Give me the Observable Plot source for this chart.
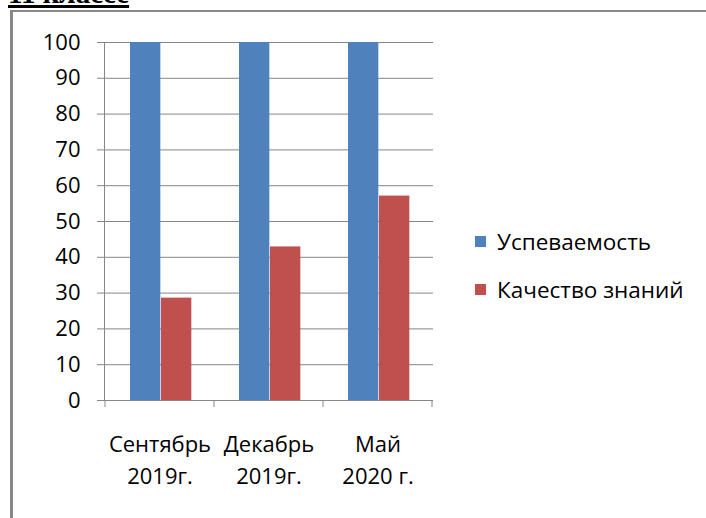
<!DOCTYPE html>
<html>
<head>
<meta charset="utf-8">
<script src="https://cdn.jsdelivr.net/npm/d3@7"></script>
<script src="https://cdn.jsdelivr.net/npm/@observablehq/plot@0.6"></script>
<style>
  html, body { margin: 0; padding: 0; background: #fff; overflow: hidden; }
  #wrap { position: relative; width: 706px; height: 518px; overflow: hidden; }
  #title { position: absolute; left: 8px; top: -23px; font: bold 29px "Liberation Serif", serif; text-decoration: underline; text-decoration-thickness: 3px; text-underline-offset: 2px; color: #000; white-space: nowrap; }
  #frame { position: absolute; left: 10px; top: 10px; width: 800px; height: 600px; border: 2px solid #888; border-left-width: 3px; }
  #chart { position: absolute; left: 0; top: 0; }
  .legend { position: absolute; left: 475px; font: 22.5px "Open Sans", sans-serif; color: #000; white-space: nowrap; }
  .legend .item { position: absolute; left: 0; display: flex; align-items: center; }
  .legend .sw { width: 11px; height: 11px; margin-right: 11px; }
</style>
</head>
<body>
<div id="wrap">
  <div id="frame"></div>
  <div id="title">11 классе</div>
  <div id="chart"></div>
  <div class="legend" id="legend"></div>
</div>
<script>
const categories = ["Сентябрь\n2019г.", "Декабрь\n2019г.", "Май\n2020 г."];
const seriesNames = ["Успеваемость", "Качество знаний"];
const uspevaemost = [100, 100, 100];
const kachestvo = [28.6, 42.9, 57.1];
const colors = ["#4F81BD", "#C0504D"];
const yTicks = [0, 10, 20, 30, 40, 50, 60, 70, 80, 90, 100];

const rows = [];
categories.forEach((c, i) => {
  rows.push({cat: c, series: seriesNames[0], value: uspevaemost[i]});
  rows.push({cat: c, series: seriesNames[1], value: kachestvo[i]});
});

const gray = "#868686";
const W = 706, H = 518, ML = 104, MR = 273, MT = 42, MB = 118;
const bw = (W - ML - MR) / categories.length;
const barW = 31, lead = 25;

const chart = Plot.plot({
  width: W, height: H,
  marginLeft: ML, marginRight: MR, marginTop: MT, marginBottom: MB,
  style: {fontFamily: "'Open Sans', sans-serif", fontSize: "22px", color: "#000", background: "transparent", overflow: "visible"},
  x: {domain: categories, padding: 0, axis: null},
  y: {domain: [0, 100], axis: null},
  color: {domain: seriesNames, range: colors},
  marks: [
    Plot.ruleY(yTicks, {y: d => d, stroke: gray, strokeWidth: 1, strokeOpacity: 1}),
    Plot.barY(rows.filter(d => d.series === seriesNames[0]), {x: "cat", y: "value", fill: "series", insetLeft: lead, insetRight: bw - lead - barW}),
    Plot.barY(rows.filter(d => d.series === seriesNames[1]), {x: "cat", y: "value", fill: "series", insetLeft: lead + barW, insetRight: bw - lead - 2 * barW}),
    Plot.axisY({ticks: yTicks, tickSize: 7, tickPadding: 17, stroke: gray, strokeOpacity: 1, fontSize: 22, tickFormat: d => String(d), label: null}),
    Plot.frame({anchor: "left", stroke: gray, strokeOpacity: 1}),
    Plot.axisX({tickSize: 0, tickPadding: 29, fontSize: 22, lineHeight: 1.45, lineAnchor: "top", label: null})
  ]
});
document.getElementById("chart").appendChild(chart);

// tick marks at category band boundaries, placed with the plot's own scales
const xs = chart.scale("x"), ys = chart.scale("y");
const y0 = ys.apply(0);
const starts = categories.map(c => xs.apply(c));
const bounds = starts.concat([starts[starts.length - 1] + xs.bandwidth]);
const svg = d3.select(chart);
svg.append("g").selectAll("line").data(bounds).join("line")
  .attr("x1", d => d).attr("x2", d => d)
  .attr("y1", y0).attr("y2", y0 + 7)
  .attr("stroke", gray);

// legend
const leg = document.getElementById("legend");
const legTops = [226, 274];
seriesNames.forEach((s, i) => {
  const it = document.createElement("div");
  it.className = "item";
  it.style.top = legTops[i] + "px";
  it.innerHTML = `<span class="sw" style="background:${colors[i]}"></span><span>${s}</span>`;
  leg.appendChild(it);
});
</script>
</body>
</html>
